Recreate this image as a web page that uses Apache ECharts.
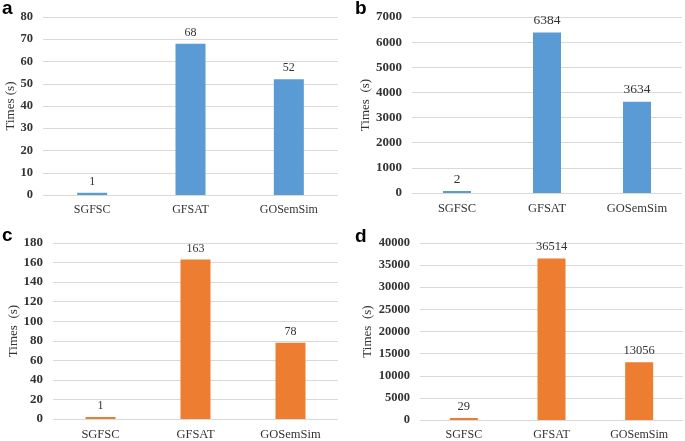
<!DOCTYPE html>
<html><head><meta charset="utf-8">
<script src="https://cdn.jsdelivr.net/npm/echarts@6/dist/echarts.min.js"></script>
<style>html,body{margin:0;padding:0;background:#fff}#c{width:685px;height:441px}</style>
</head><body><div id="c"></div>
<script>
const categories = ['SGFSC', 'GFSAT', 'GOSemSim'];
const valuesA = [1, 68, 52];
const valuesB = [2, 6384, 3634];
const valuesC = [1, 163, 78];
const valuesD = [29, 36514, 13056];
const panelLetters = ['a', 'b', 'c', 'd'];
const yAxisNames = ['Times (s)', 'Times  (s)', 'Times  (s)', 'Times  (s)'];
const yMax = [80, 7000, 180, 40000];
const yInterval = [10, 1000, 20, 5000];

const BLUE = '#5B9BD5', ORANGE = '#ED7D31';
const serif = '"Liberation Serif", "Times New Roman", serif';
const grids = [
  {left: 43, right: 347, top: 17, bottom: 246},
  {left: 412, right: 3, top: 17, bottom: 248},
  {left: 53, right: 347, top: 243, bottom: 20},
  {left: 420, right: 2, top: 243, bottom: 21}
];
const nameGaps = [22, 34, 32, 46];
const barWidths = [30, 28, 30, 28];
const tickFont = [12.5, 13, 13, 12.5];
const catFont = [12, 12.5, 12.5, 12];
const valFont = [12, 13.5, 12, 12.5];
const data = [valuesA, valuesB, valuesC, valuesD];
const colors = [BLUE, BLUE, ORANGE, ORANGE];
const letterPos = [[2, 19], [355, 19], [2, 246], [355, 247]];

const option = {
  animation: false,
  grid: grids,
  xAxis: grids.map((g, i) => ({
    type: 'category', gridIndex: i, data: categories,
    axisLine: {show: false}, axisTick: {show: false},
    axisLabel: {fontFamily: serif, fontSize: catFont[i], color: '#333', margin: 9}
  })),
  yAxis: grids.map((g, i) => ({
    type: 'value', gridIndex: i, min: 0, max: yMax[i], interval: yInterval[i],
    name: yAxisNames[i], nameLocation: 'middle', nameGap: nameGaps[i], nameRotate: 90,
    nameTextStyle: {fontFamily: serif, fontSize: 13, color: '#333'},
    axisLine: {show: false}, axisTick: {show: false},
    axisLabel: {fontFamily: serif, fontSize: tickFont[i], fontWeight: 'bold', color: '#333', margin: 10,
      formatter: v => String(v)},
    splitLine: {lineStyle: {color: '#D9D9D9', width: 1}}
  })),
  series: data.map((d, i) => ({
    type: 'bar', xAxisIndex: i, yAxisIndex: i, data: d, barWidth: barWidths[i], barMinHeight: 2,
    itemStyle: {color: colors[i]},
    label: {show: true, position: 'top', distance: 5, fontFamily: serif, fontSize: valFont[i], color: '#333'}
  })),
  graphic: panelLetters.map((t, i) => ({
    type: 'text', left: letterPos[i][0], top: letterPos[i][1] - 20,
    style: {text: t, font: 'bold 19px "Liberation Sans", Arial, sans-serif', fill: '#000'}
  }))
};
echarts.init(document.getElementById('c')).setOption(option);
</script></body></html>
